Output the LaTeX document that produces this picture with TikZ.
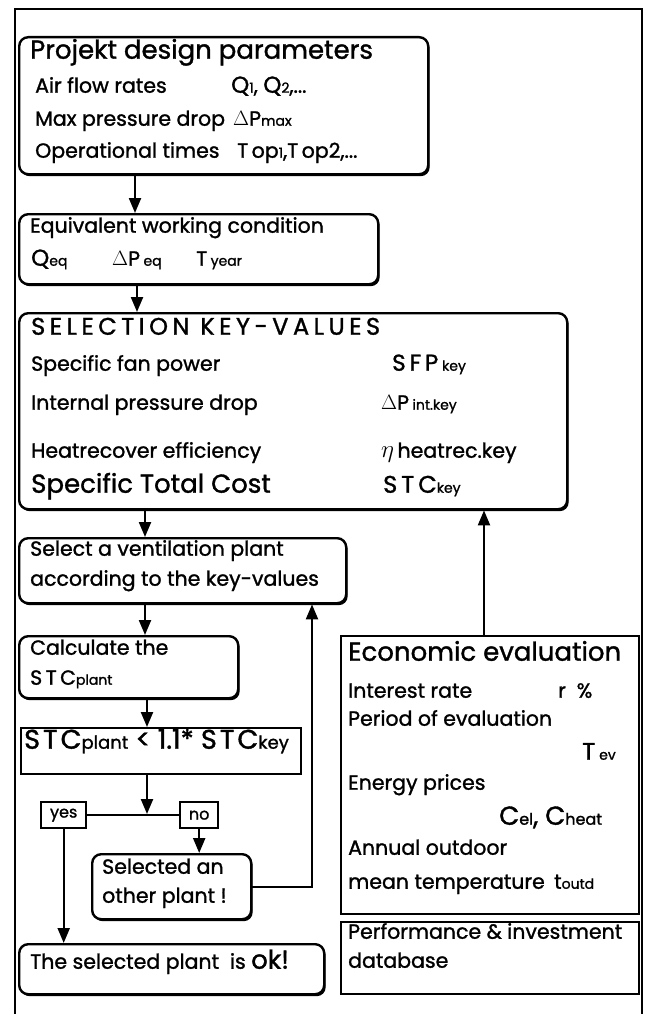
\documentclass[tikz,border=0pt]{standalone}
\usepackage{fontspec}
\setmainfont{Poppins}[FakeBold=1.3]
\usetikzlibrary{arrows.meta,shadows}

\newcommand{\lo}[1]{{\fontsize{14}{14}\selectfont #1}}
\newcommand{\ls}{\kern4.5pt}

\tikzset{
  rbox/.style={draw, line width=2.4pt, rounded corners=9pt, fill=white, anchor=north west, inner sep=0pt,
    drop shadow={shadow xshift=1.5pt, shadow yshift=-2pt, fill=black, opacity=1}},
  sbox/.style={draw, line width=2.4pt, fill=white, anchor=north west, inner sep=0pt},
  txt/.style={anchor=mid west, inner sep=0pt, font=\fontsize{20.5}{24}\selectfont},
  big/.style={txt, font=\fontsize{26}{30}\selectfont},
  arr/.style={line width=2.2pt, -{Triangle[length=15pt,width=12pt]}},
  link/.style={line width=2.2pt},
}

\begin{document}
\begin{tikzpicture}[x=1pt,y=-1pt]
  \useasboundingbox (0,0) rectangle (649,1014);
  % outer frame
  \draw[line width=2.4pt] (15,1014) -- (15,9) -- (642,9) -- (642,1014);

  % design parameters
  \node[rbox, minimum width=409pt, minimum height=137pt] (design) at (18,36) {};
  \node[big] (design-t) at (30,56) {Projekt design parameters};
  \node[txt] (flow) at (35,90) {Air flow rates};
  \node[txt] (flow-v) at (231,90) {{\fontsize{23}{24}\selectfont Q}\lo{1}, {\fontsize{23}{24}\selectfont Q}\lo{2},...};
  \node[txt] (dp) at (35,123) {Max pressure drop};
  \node[txt] (dp-v) at (233,123) {$\Delta$P\lo{max}};
  \node[txt] (op) at (35,155) {Operational times};
  \node[txt] (op-v) at (237,155) {T\,op\lo{1},T\,op2,...};

  % equivalent condition
  \node[rbox, minimum width=359pt, minimum height=70pt] (equiv) at (18,213) {};
  \node[txt] (equiv-t) at (30,230) {Equivalent working condition};
  \node[txt] (qeq) at (31,263) {{\fontsize{23}{24}\selectfont Q}\lo{eq}};
  \node[txt] (dpeq) at (112,263) {$\Delta$P\,\lo{eq}};
  \node[txt] (tyear) at (196,263) {T\,\lo{year}};

  % selection key-values
  \node[rbox, minimum width=548pt, minimum height=196pt] (keys) at (18,312) {};
  \node[txt, font=\fontsize{24}{28}\selectfont] (keys-t) at (31,332)
    {S\ls E\ls L\ls E\ls C\ls T\ls I\ls O\ls N\ls{} K\ls E\ls Y\ls -\ls V\ls A\ls L\ls U\ls E\ls S};
  \node[txt] (sfp) at (31,368) {Specific fan power};
  \node[txt, font=\fontsize{23}{26}\selectfont] (sfp-v) at (392,368) {S\,F\,P\,\lo{key}};
  \node[txt] (dpint) at (31,407) {Internal pressure drop};
  \node[txt] (dpint-v) at (381,407) {$\Delta$P\,\lo{int.key}};
  \node[txt] (eta) at (31,455) {Heatrecover efficiency};
  \node[txt] (eta-v) at (381,455) {{\fontsize{28}{28}\selectfont$\eta$}\,heatrec.key};
  \node[big] (stc) at (31,490) {Specific Total Cost};
  \node[txt, font=\fontsize{24}{28}\selectfont] (stc-v) at (383,490) {S\,T\,C\lo{key}};

  % select plant
  \node[rbox, minimum width=327pt, minimum height=65pt] (select) at (18,537) {};
  \node[txt] (select-1) at (30,553) {Select a ventilation plant};
  \node[txt] (select-2) at (30,583) {according to the key-values};

  % calculate
  \node[rbox, minimum width=219pt, minimum height=62pt] (calc) at (18,635) {};
  \node[txt] (calc-1) at (30,652) {Calculate the};
  \node[txt] (calc-2) at (30,682) {S\,T\,C\lo{plant}};

  % condition
  \node[sbox, minimum width=280pt, minimum height=46pt] (cond) at (20,727) {};
  \node[txt, font=\fontsize{27}{28}\selectfont] (cond-t) at (24,746)
    {S\kern3pt T\kern3pt C{\fontsize{18}{18}\selectfont plant} < 1.1* S\kern3pt T\kern3pt C{\fontsize{18}{18}\selectfont key}};

  % yes / no
  \node[sbox, minimum width=45pt, minimum height=26pt, font=\fontsize{16}{18}\selectfont] (yes) at (40,801) {yes};
  \node[sbox, minimum width=38pt, minimum height=26pt, font=\fontsize{16}{18}\selectfont] (no) at (179,801) {no};
  \coordinate (split) at (147,814);

  % other plant
  \node[rbox, minimum width=159pt, minimum height=65pt] (other) at (91,853) {};
  \node[txt] (other-1) at (102,871) {Selected an};
  \node[txt] (other-2) at (102,900) {other plant !};

  % result
  \node[rbox, minimum width=305pt, minimum height=50pt] (ok) at (18,943) {};
  \node[txt] (ok-t) at (30,966) {The selected plant \ is {\fontsize{26}{28}\selectfont ok!}};

  % economic evaluation
  \node[sbox, minimum width=298pt, minimum height=278pt] (econ) at (340,635) {};
  \node[big] (econ-t) at (348,658) {Economic evaluation};
  \node[txt] (rate) at (348,695) {Interest rate};
  \node[txt] (rate-v) at (558,695) {r \ \%};
  \node[txt] (period) at (348,723) {Period of evaluation};
  \node[txt, font=\fontsize{24}{28}\selectfont] (tev) at (582,757) {T\,\lo{ev}};
  \node[txt] (energy) at (348,787) {Energy prices};
  \node[txt, font=\fontsize{26}{28}\selectfont] (cost-v) at (499,822) {C{\fontsize{16}{16}\selectfont el}, C{\fontsize{16}{16}\selectfont heat}};
  \node[txt] (annual) at (348,852) {Annual outdoor};
  \node[txt] (mean) at (348,886) {mean temperature};
  \node[txt] (toutd) at (554,886) {t\lo{outd}};

  % database
  \node[sbox, minimum width=298pt, minimum height=72pt] (perf) at (340,921) {};
  \node[txt] (perf-1) at (348,936) {Performance \& investment};
  \node[txt] (perf-2) at (348,965) {database};

  % connectors
  \draw[arr] ([xshift=117pt]design.south west) -- ([xshift=117pt]equiv.north west);
  \draw[arr] ([xshift=119pt]equiv.south west) -- ([xshift=119pt]keys.north west);
  \draw[arr] ([xshift=127pt]keys.south west) -- ([xshift=127pt]select.north west);
  \draw[arr] ([xshift=127pt]select.south west) -- ([xshift=127pt]calc.north west);
  \draw[arr] ([xshift=129pt]calc.south west) -- ([xshift=127pt]cond.north west);
  \draw[arr] (cond.south -| split) -- (split);
  \draw[link] (yes) -- (no);
  \draw[arr] (yes) -- (yes |- ok.north);
  \draw[arr] (no) -- (no |- other.north);
  \coordinate (back) at (312,888);
  \draw[arr] (other.east) -| (back |- select.south);
  \coordinate (econ-out) at ([xshift=144pt]econ.north west);
  \draw[arr] (econ-out) -- (econ-out |- keys.south);
\end{tikzpicture}
\end{document}
